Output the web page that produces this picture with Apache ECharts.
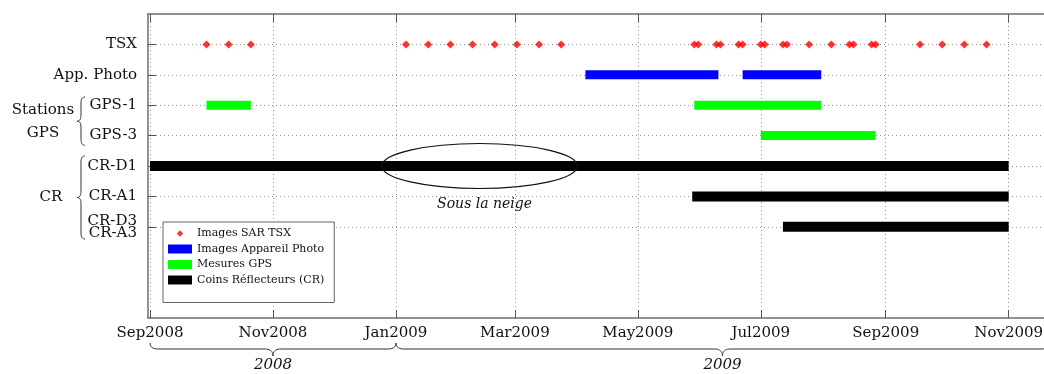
<!DOCTYPE html>
<html><head><meta charset="utf-8">
<script src="https://cdn.jsdelivr.net/npm/echarts@6/dist/echarts.min.js"></script>
<style>html,body{margin:0;padding:0;background:#fff}#c{width:1044px;height:374px}</style>
</head><body><div id="c"></div>
<script>
// ---------- data ----------
const rows = ['r0', 'TSX', 'App. Photo', 'GPS-1', 'GPS-3', 'CR-D1', 'CR-A1', 'CR-A3', 'r8', 'r9', 'r10'];
const rowLabels = ['', 'TSX', 'App. Photo', 'GPS-1', 'GPS-3', 'CR-D1', 'CR-A1', 'CR-D3\nCR-A3', '', '', ''];
const tickDates = ['2008-09-01', '2008-11-01', '2009-01-01', '2009-03-01', '2009-05-01', '2009-07-01', '2009-09-01', '2009-11-01'];
const tickLabels = ['Sep2008', 'Nov2008', 'Jan2009', 'Mar2009', 'May2009', 'Jul2009', 'Sep2009', 'Nov2009'];
const axisStart = '2008-08-31';
const axisEnd = '2009-11-21';
const seriesNames = ['Images SAR TSX', 'Images Appareil Photo', 'Mesures GPS', 'Coins Réflecteurs (CR)'];
const tsxDates = [
  '2008-09-29', '2008-10-10', '2008-10-21',
  '2009-01-06', '2009-01-17', '2009-01-28', '2009-02-08', '2009-02-19', '2009-03-02', '2009-03-13', '2009-03-24',
  '2009-05-29', '2009-05-31', '2009-06-09', '2009-06-11', '2009-06-20', '2009-06-22', '2009-07-01', '2009-07-03',
  '2009-07-12', '2009-07-14', '2009-07-25', '2009-08-05', '2009-08-14', '2009-08-16', '2009-08-25', '2009-08-27',
  '2009-09-18', '2009-09-29', '2009-10-10', '2009-10-21'
];
const photoBars = [['App. Photo', '2009-04-05', '2009-06-10'], ['App. Photo', '2009-06-22', '2009-07-31']];
const gpsBars = [['GPS-1', '2008-09-29', '2008-10-21'], ['GPS-1', '2009-05-29', '2009-07-31'], ['GPS-3', '2009-07-01', '2009-08-27']];
const crBars = [['CR-D1', '2008-09-01', '2009-11-01'], ['CR-A1', '2009-05-28', '2009-11-01'], ['CR-A3', '2009-07-12', '2009-11-01']];
const snowZone = [['CR-D1', '2008-12-25', '2009-04-01']];
const snowText = 'Sous la neige';
const yearSpans = [['2008', '2008-09-01', '2009-01-01'], ['2009', '2009-01-01', '2009-11-21']];
const rowGroups = [['Stations\nGPS', 'GPS-1', 'GPS-3'], ['CR', 'CR-D1', 'CR-A3']];

// ---------- chart ----------
const FONT = 'DejaVu Serif';
const d = s => +echarts.time.parse(s);
const tickVals = tickDates.map(d);
const showRow = i => rowLabels[i] !== '';
const gridLine = { color: '#8f8f8f', type: [1, 3], width: 1 };
const frame = { color: '#6e6e6e', width: 1.5 };
const toBar = arr => arr.map(b => [b[0], d(b[1]), d(b[2])]);
const diamondIcon = 'path://M0,0M5,1.5L8.5,5L5,8.5L1.5,5ZM10,10';

function barRender(h) {
  return function (params, api) {
    const y = api.value(0);
    const p1 = api.coord([api.value(1), y]);
    const p2 = api.coord([api.value(2), y]);
    return { type: 'rect', shape: { x: p1[0], y: p1[1] - h / 2, width: p2[0] - p1[0], height: h },
      style: { fill: api.visual('color') } };
  };
}

const chart = echarts.init(document.getElementById('c'));
chart.setOption({
  animation: false,
  grid: { left: 148, top: 14, width: 901, height: 304, outerBoundsMode: 'none', containLabel: false },
  xAxis: [{
    type: 'value', min: d(axisStart), max: d(axisEnd), position: 'bottom',
    axisLine: { show: true, onZero: false, lineStyle: frame },
    axisTick: { show: true, inside: true, length: 8, customValues: tickVals, lineStyle: { color: '#555' } },
    axisLabel: { show: true, customValues: tickVals, formatter: v => tickLabels[tickVals.indexOf(v)] || '',
      fontFamily: FONT, fontSize: 15, color: '#111', margin: 8, hideOverlap: false },
    splitLine: { show: true, lineStyle: gridLine }
  }, {
    type: 'value', min: d(axisStart), max: d(axisEnd), position: 'top',
    axisLine: { show: true, onZero: false, lineStyle: frame },
    axisTick: { show: true, inside: true, length: 8, customValues: tickVals, lineStyle: { color: '#555' } },
    axisLabel: { show: false }, splitLine: { show: false }
  }],
  yAxis: {
    type: 'category', data: rows, inverse: true, boundaryGap: false,
    axisLine: { show: true, onZero: false, lineStyle: frame },
    axisTick: { show: true, inside: true, length: 8, interval: showRow, lineStyle: { color: '#555' } },
    axisLabel: { show: true, interval: showRow, formatter: (v, i) => rowLabels[rows.indexOf(v)],
      fontFamily: FONT, fontSize: 15, color: '#111', margin: 11, lineHeight: 12 },
    splitLine: { show: true, interval: showRow, lineStyle: gridLine }
  },
  legend: {
    orient: 'vertical', left: 163, top: 222, itemWidth: 24, itemHeight: 9, itemGap: 4.5,
    padding: [6, 10, 17, 5], backgroundColor: '#fff', borderColor: '#666', borderWidth: 1, borderRadius: 0,
    symbolKeepAspect: true,
    selectedMode: false, textStyle: { fontFamily: FONT, fontSize: 11, color: '#111' },
    data: [{ name: seriesNames[0], icon: diamondIcon }, { name: seriesNames[1], icon: 'rect' },
      { name: seriesNames[2], icon: 'rect' }, { name: seriesNames[3], icon: 'rect' }]
  },
  series: [
    { type: 'custom', name: seriesNames[1], itemStyle: { color: '#0000ff' }, renderItem: barRender(9),
      encode: { x: [1, 2], y: 0 }, data: toBar(photoBars), z: 3 },
    { type: 'custom', name: seriesNames[2], itemStyle: { color: '#00ff00' }, renderItem: barRender(9),
      encode: { x: [1, 2], y: 0 }, data: toBar(gpsBars), z: 3 },
    { type: 'custom', name: seriesNames[3], itemStyle: { color: '#000000' }, renderItem: barRender(10),
      encode: { x: [1, 2], y: 0 }, data: toBar(crBars), z: 3 },
    { type: 'scatter', name: seriesNames[0], symbol: 'diamond', symbolSize: 8, symbolKeepAspect: true,
      itemStyle: { color: '#ff0000' }, data: tsxDates.map(s => [d(s), 'TSX']), z: 4 },
    { type: 'custom', name: 'snow', z: 5, silent: true, encode: { x: [1, 2], y: 0 }, data: toBar(snowZone),
      renderItem: function (params, api) {
        const y = api.value(0);
        const p1 = api.coord([api.value(1), y]);
        const p2 = api.coord([api.value(2), y]);
        const band = api.size([0, 1])[1];
        const cx = (p1[0] + p2[0]) / 2;
        return { type: 'group', children: [
          { type: 'ellipse', shape: { cx: cx, cy: p1[1], rx: (p2[0] - p1[0]) / 2, ry: band * 0.74 },
            style: { fill: null, stroke: '#111', lineWidth: 1.2 } },
          { type: 'text', x: cx + 5, y: p1[1] + band * 1.25,
            style: { text: snowText, fontFamily: FONT, fontSize: 14, fontStyle: 'italic', fill: '#111',
              align: 'center', verticalAlign: 'middle' } }
        ] };
      } }
  ]
});

// ---------- braces & group labels ----------
const px = v => chart.convertToPixel({ xAxisIndex: 0 }, d(v));
const py = r => chart.convertToPixel({ yAxisIndex: 0 }, r);
const band = py(rows[2]) - py(rows[1]);
const g = [];
const braceStyle = { fill: null, stroke: '#333', lineWidth: 1 };
function quad(pts, p0, c, p1) {
  for (let i = 0; i <= 10; i++) {
    const t = i / 10, u = 1 - t;
    pts.push([u * u * p0[0] + 2 * u * t * c[0] + t * t * p1[0], u * u * p0[1] + 2 * u * t * c[1] + t * t * p1[1]]);
  }
}
function brace(a1, a2, bEnd, bMid, bTip, r, vertical) {
  const am = (a1 + a2) / 2, pts = [];
  const P = (a, b) => vertical ? [b, a] : [a, b];
  quad(pts, P(a1, bEnd), P(a1, bMid), P(a1 + r, bMid));
  quad(pts, P(am - r, bMid), P(am, bMid), P(am, bTip));
  quad(pts, P(am, bTip), P(am, bMid), P(am + r, bMid));
  quad(pts, P(a2 - r, bMid), P(a2, bMid), P(a2, bEnd));
  return pts;
}
const labelX = [43, 51];
rowGroups.forEach((gr, k) => {
  const y1 = py(gr[1]) - band * (k === 0 ? 0.27 : 0.33);
  const y2 = py(gr[2]) + band * (k === 0 ? 0.32 : 0.4);
  g.push({ type: 'polyline', shape: { points: brace(y1, y2, 85, 81, 77, 6, true) }, style: braceStyle });
  g.push({ type: 'text', x: labelX[k], y: (y1 + y2) / 2,
    style: { text: gr[0], fontFamily: FONT, fontSize: 15, fill: '#111', align: 'center', verticalAlign: 'middle', lineHeight: 23 } });
});
const axisY = py(rows[rows.length - 1]);
yearSpans.forEach(s => {
  const x1 = px(s[1]), x2 = px(s[2]);
  g.push({ type: 'polyline', shape: { points: brace(x1, x2, axisY + 25, axisY + 31, axisY + 38, 8, false) }, style: braceStyle });
  g.push({ type: 'text', x: (x1 + x2) / 2, y: axisY + 47,
    style: { text: s[0], fontFamily: FONT, fontSize: 15, fontStyle: 'italic', fill: '#111', align: 'center', verticalAlign: 'middle' } });
});
chart.setOption({ graphic: g });
</script></body></html>
